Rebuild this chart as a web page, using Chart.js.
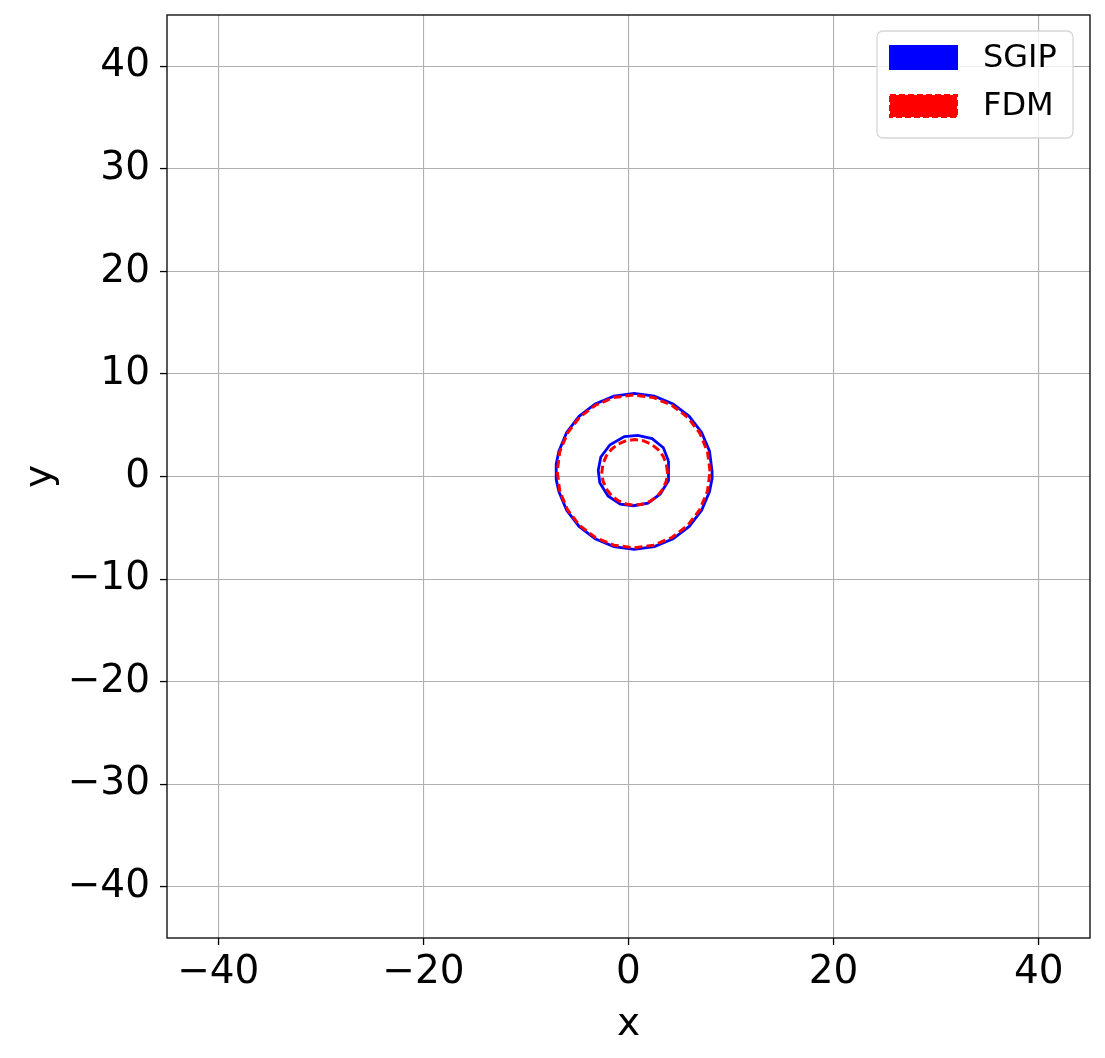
<!DOCTYPE html>
<html>
<head>
<meta charset="utf-8">
<script src="https://cdn.jsdelivr.net/npm/chart.js@4.4.0/dist/chart.umd.min.js"></script>
<style>
  body{margin:0;background:#fff;}
  #wrap{width:1105px;height:1058px;}
</style>
</head>
<body>
<div id="wrap"><canvas id="c" width="1105" height="1058"></canvas></div>
<script>
// axis ticks
const xTicks = [-40, -20, 0, 20, 40];
const yTicks = [-40, -30, -20, -10, 0, 10, 20, 30, 40];
const seriesNames = ['SGIP', 'FDM'];

// SGIP contours
const sgipOuterX = [8.15, 7.9, 7.13, 5.92, 4.35, 2.52, 0.55, -1.42, -3.25, -4.82, -6.03, -6.79, -7.05, -7.05, -6.79, -6.03, -4.82, -3.25, -1.42, 0.55, 2.52, 4.35, 5.92, 7.13, 7.9, 8.15, 8.15];
const sgipOuterY = [0.5, 2.47, 4.3, 5.87, 7.08, 7.84, 8.1, 7.84, 7.08, 5.87, 4.3, 2.47, 1.2, -0.3, -1.47, -3.3, -4.87, -6.08, -6.84, -7.1, -6.84, -6.08, -4.87, -3.3, -1.47, -0.2, 0.5];
const sgipInnerX = [3.9, 3.4, 2.3, 0.9, -0.4, -1.8, -2.7, -2.95, -2.8, -2.0, -0.8, 0.5, 1.9, 3.1, 3.9, 3.9];
const sgipInnerY = [1.5, 2.8, 3.7, 4.0, 3.9, 3.1, 1.9, 0.6, -0.6, -1.9, -2.7, -2.85, -2.6, -1.7, -0.4, 1.5];

// FDM contours
const fdmOuterX = [7.95, 7.7, 6.95, 5.77, 4.23, 2.43, 0.5, -1.43, -3.23, -4.77, -5.95, -6.7, -6.95, -6.7, -5.95, -4.77, -3.23, -1.43, 0.5, 2.43, 4.23, 5.77, 6.95, 7.7, 7.95];
const fdmOuterY = [0.5, 2.43, 4.23, 5.77, 6.95, 7.7, 7.95, 7.7, 6.95, 5.77, 4.23, 2.43, 0.5, -1.43, -3.23, -4.77, -5.95, -6.7, -6.95, -6.7, -5.95, -4.77, -3.23, -1.43, 0.5];
const fdmInnerX = [3.8, 3.69, 3.37, 2.86, 2.2, 1.43, 0.6, -0.23, -1.0, -1.66, -2.17, -2.49, -2.6, -2.49, -2.17, -1.66, -1.0, -0.23, 0.6, 1.43, 2.2, 2.86, 3.37, 3.69, 3.8];
const fdmInnerY = [0.4, 1.23, 2.0, 2.66, 3.17, 3.49, 3.6, 3.49, 3.17, 2.66, 2.0, 1.23, 0.4, -0.43, -1.2, -1.86, -2.37, -2.69, -2.8, -2.69, -2.37, -1.86, -1.2, -0.43, 0.4];

const pts = (xs, ys) => xs.map((x, i) => ({x: x, y: ys[i]}));
const FONT = 'DejaVu Sans';
const minus = v => String(v).replace('-', '\u2212');

function line(label, xs, ys, color, dash, order){
  return {label: label, data: pts(xs, ys), showLine: true, borderColor: color, borderWidth: dash ? 3 : 2.8,
    borderDash: dash || [], pointRadius: 0, tension: 0, fill: false, order: order};
}

// frame + legend box like the original
const framePlugin = {
  id: 'frame',
  afterDraw(chart){
    const ctx = chart.ctx, a = chart.chartArea;
    ctx.save();
    ctx.strokeStyle = '#000'; ctx.lineWidth = 1.3;
    ctx.strokeRect(a.left, a.top, a.right - a.left, a.bottom - a.top);
    // legend
    const lx = 877, ly = 31, lw = 196, lh = 107, r = 6;
    ctx.beginPath();
    ctx.moveTo(lx + r, ly); ctx.arcTo(lx + lw, ly, lx + lw, ly + lh, r); ctx.arcTo(lx + lw, ly + lh, lx, ly + lh, r);
    ctx.arcTo(lx, ly + lh, lx, ly, r); ctx.arcTo(lx, ly, lx + lw, ly, r); ctx.closePath();
    ctx.fillStyle = 'rgba(255,255,255,0.8)'; ctx.fill();
    ctx.strokeStyle = '#d6d6d6'; ctx.lineWidth = 1.3; ctx.stroke();
    ctx.fillStyle = '#0000ff'; ctx.fillRect(889, 45, 69, 25);
    ctx.fillStyle = '#ff0000'; ctx.fillRect(890, 95, 67, 22);
    ctx.setLineDash([6, 3]); ctx.strokeStyle = '#ff0000'; ctx.lineWidth = 2;
    ctx.strokeRect(890, 95, 67, 22);
    ctx.setLineDash([]);
    ctx.fillStyle = '#000'; ctx.font = '32px "' + FONT + '"'; ctx.textBaseline = 'middle'; ctx.textAlign = 'left';
    ctx.fillText(seriesNames[0], 983, 59);
    ctx.fillText(seriesNames[1], 983, 107);
    ctx.restore();
  }
};

new Chart(document.getElementById('c').getContext('2d'), {
  type: 'scatter',
  data: {datasets: [
    line(seriesNames[0], sgipOuterX, sgipOuterY, '#0000ff', null, 2),
    line(seriesNames[0], sgipInnerX, sgipInnerY, '#0000ff', null, 2),
    line(seriesNames[1], fdmOuterX, fdmOuterY, '#ff0000', [8, 4], 1),
    line(seriesNames[1], fdmInnerX, fdmInnerY, '#ff0000', [8, 4], 1)
  ]},
  options: {
    responsive: false, animation: false,
    layout: {padding: {top: 15, right: 15, left: 0, bottom: 0}},
    plugins: {legend: {display: false}, tooltip: {enabled: false}},
    scales: {
      x: {
        type: 'linear', min: -45, max: 45,
        afterBuildTicks: s => { s.ticks = xTicks.map(v => ({value: v})); },
        afterFit: s => { s.height = 120; s.paddingLeft = 0; s.paddingRight = 0; },
        grid: {color: '#b0b0b0', lineWidth: 1.1, tickLength: 7, tickColor: '#000', tickWidth: 1.3},
        border: {display: false},
        ticks: {color: '#000', font: {family: FONT, size: 39}, padding: 4, maxRotation: 0, callback: v => minus(v)},
        title: {display: true, text: 'x', color: '#000', font: {family: FONT, size: 39}, padding: {top: 0, bottom: 10}}
      },
      y: {
        type: 'linear', min: -45, max: 45,
        afterBuildTicks: s => { s.ticks = yTicks.map(v => ({value: v})); },
        afterFit: s => { s.width = 167; s.paddingTop = 0; s.paddingBottom = 0; },
        grid: {color: '#b0b0b0', lineWidth: 1.1, tickLength: 7, tickColor: '#000', tickWidth: 1.3},
        border: {display: false},
        ticks: {color: '#000', font: {family: FONT, size: 39}, padding: 10, callback: v => minus(v)},
        title: {display: true, text: 'y', color: '#000', font: {family: FONT, size: 39}, padding: {top: 17, bottom: 0}}
      }
    }
  },
  plugins: [framePlugin]
});
</script>
</body>
</html>
